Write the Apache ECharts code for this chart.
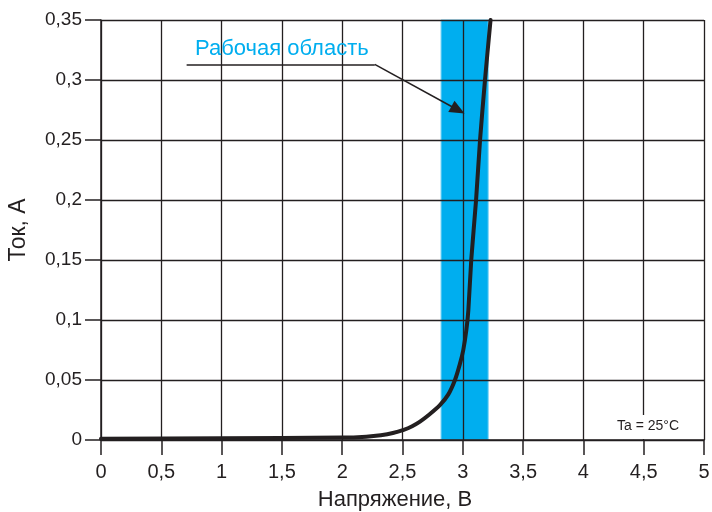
<!DOCTYPE html>
<html>
<head>
<meta charset="utf-8">
<script src="https://cdn.jsdelivr.net/npm/echarts@6/dist/echarts.min.js"></script>
<style>html,body{margin:0;padding:0;background:#fff}#c{width:712px;height:512px}</style>
</head>
<body>
<div id="c"></div>
<script>
// Data
var voltage = [0, 1, 2, 2.2, 2.32, 2.42, 2.51, 2.58, 2.645, 2.72, 2.81, 2.88, 2.935, 2.975, 3.004, 3.03, 3.046, 3.07, 3.11, 3.143, 3.184, 3.23];
var current = [0.001, 0.0015, 0.002, 0.0028, 0.004, 0.0058, 0.0085, 0.0115, 0.0153, 0.021, 0.029, 0.038, 0.05, 0.063, 0.075, 0.092, 0.108, 0.15, 0.2, 0.25, 0.30, 0.35];
var workBand = [2.82, 3.21];
var leader = [[0.71, 0.313], [2.27, 0.313], [2.96, 0.275]];
var xTicks = { min: 0, max: 5, step: 0.5 };
var yTicks = { min: 0, max: 0.35, step: 0.05 };
var bandLabel = 'Рабочая область';
var xName = 'Напряжение, В';
var yName = 'Ток, А';
var noteText = 'Ta = 25°C';

var FONT = '"Liberation Sans", Arial, Helvetica, sans-serif';
var INK = '#231f20';
function fmt(v) {
  var s = (Math.round(v * 1000) / 1000).toString();
  return s.replace('.', ',');
}
var pts = voltage.map(function (v, i) { return [v, current[i]]; });

var chart = echarts.init(document.getElementById('c'));
chart.setOption({
  animation: false,
  backgroundColor: '#fff',
  grid: { left: 101, right: 8, top: 20, bottom: 72, containLabel: false, outerBoundsMode: 'none' },
  xAxis: {
    type: 'value', min: xTicks.min, max: xTicks.max, interval: xTicks.step, z: 3,
    name: xName, nameLocation: 'middle', nameGap: 49,
    nameTextStyle: { fontFamily: FONT, fontSize: 22, color: INK, padding: [0, 15, 0, 0] },
    axisLine: { show: true, lineStyle: { color: INK, width: 1.5 } },
    axisTick: { show: true, inside: false, length: 15, lineStyle: { color: INK, width: 1.5 } },
    axisLabel: { margin: 22, fontFamily: FONT, fontSize: 20, color: INK, formatter: fmt },
    splitLine: { show: true, lineStyle: { color: INK, width: 1.3 } }
  },
  yAxis: {
    type: 'value', min: yTicks.min, max: yTicks.max, interval: yTicks.step, z: 3,
    name: yName, nameLocation: 'middle', nameGap: 71, nameRotate: 90,
    nameTextStyle: { fontFamily: FONT, fontSize: 23, color: INK },
    axisLine: { show: true, lineStyle: { color: INK, width: 1.5 } },
    axisTick: { show: true, inside: false, length: 16, lineStyle: { color: INK, width: 1.5 } },
    axisLabel: { margin: 19, fontFamily: FONT, fontSize: 19, color: INK, formatter: fmt },
    splitLine: { show: true, lineStyle: { color: INK, width: 1.3 } }
  },
  series: [
    {
      type: 'line', data: [], z: 1, silent: true,
      markArea: {
        silent: true,
        itemStyle: { color: '#00aeef', borderColor: '#66cdf4', borderWidth: 1 },
        data: [[{ xAxis: workBand[0] }, { xAxis: workBand[1] }]]
      }
    },
    {
      type: 'line', data: pts, z: 5, smooth: 0.25,
      showSymbol: false, clip: true,
      lineStyle: { color: INK, width: 4, join: 'round', cap: 'round' },
      markLine: {
        silent: true, animation: false,
        symbol: ['none', 'none'],
        label: { show: false },
        lineStyle: { color: INK, width: 1.5, type: 'solid' },
        data: [
          [{ coord: leader[0], symbol: 'none' }, { coord: leader[1], symbol: 'none' }],
          [{ coord: leader[1], symbol: 'none' }, { coord: leader[2], symbol: 'triangle', symbolSize: [13, 15] }]
        ]
      }
    }
  ],
  graphic: [
    { type: 'text', left: 195, top: 38, z: 10,
      style: { text: bandLabel, fill: '#00aeef', font: '22px ' + FONT } },
    { type: 'text', left: 614, top: 415, z: 10,
      style: { text: noteText, fill: INK, font: '14px ' + FONT,
               backgroundColor: '#fff', padding: [4, 3, 6, 3] } }
  ]
});
</script>
</body>
</html>
